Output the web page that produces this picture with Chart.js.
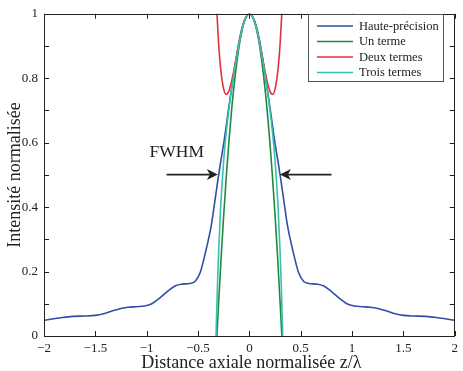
<!DOCTYPE html>
<html>
<head>
<meta charset="utf-8">
<script src="https://cdn.jsdelivr.net/npm/chart.js@4/dist/chart.umd.min.js"></script>
<style>
  html, body { margin: 0; padding: 0; background: #fff; }
  #wrap { width: 463px; height: 371px; position: relative; }
</style>
</head>
<body>
<div id="wrap"><canvas id="c" width="463" height="371"></canvas></div>
<script>
// ---- Data ----
const seriesLabels = ["Haute-précision", "Un terme", "Deux termes", "Trois termes"];
const seriesColors = ["#2f4ea6", "#1f8a3c", "#e0323a", "#35c0b0"];

const hauteX = [-2.00,-1.85,-1.72,-1.60,-1.50,-1.42,-1.35,-1.27,-1.18,-1.10,-1.02,-0.95,-0.88,-0.80,-0.72,-0.65,-0.58,-0.53,-0.48,-0.42,-0.37,-0.34,-0.31,-0.28,-0.25,-0.20,-0.15,-0.10,-0.05,
  0,
  0.05,0.10,0.15,0.20,0.25,0.28,0.31,0.34,0.37,0.42,0.48,0.53,0.58,0.65,0.72,0.80,0.88,0.95,1.02,1.10,1.18,1.27,1.35,1.42,1.50,1.60,1.72,1.85,2.00];
const hauteY = [0.049,0.056,0.061,0.062,0.064,0.069,0.076,0.084,0.089,0.091,0.093,0.100,0.116,0.138,0.156,0.161,0.163,0.169,0.196,0.270,0.345,0.410,0.477,0.540,0.597,0.710,0.818,0.915,0.978,
  1.000,
  0.978,0.915,0.818,0.710,0.597,0.540,0.477,0.410,0.345,0.270,0.196,0.169,0.163,0.161,0.156,0.138,0.116,0.100,0.093,0.091,0.089,0.084,0.076,0.069,0.064,0.062,0.061,0.056,0.049];

const unX = [-0.32,-0.30,-0.275,-0.25,-0.225,-0.20,-0.175,-0.15,-0.10,-0.05,0,0.05,0.10,0.15,0.175,0.20,0.225,0.25,0.275,0.30,0.32];
const unY = [-0.024,0.100,0.244,0.375,0.494,0.600,0.694,0.775,0.900,0.975,1.000,0.975,0.900,0.775,0.694,0.600,0.494,0.375,0.244,0.100,-0.024];

const deuxX = [-0.33,-0.32,-0.30,-0.28,-0.25,-0.225,-0.20,-0.175,-0.15,-0.10,-0.05,0,0.05,0.10,0.15,0.175,0.20,0.225,0.25,0.28,0.30,0.32,0.33];
const deuxY = [1.097,1.025,0.910,0.831,0.766,0.750,0.760,0.788,0.826,0.910,0.976,1.000,0.976,0.910,0.826,0.788,0.760,0.750,0.766,0.831,0.910,1.025,1.097];

const troisX = [-0.33,-0.32,-0.31,-0.30,-0.28,-0.25,-0.225,-0.20,-0.175,-0.15,-0.10,-0.05,0,0.05,0.10,0.15,0.175,0.20,0.225,0.25,0.28,0.30,0.31,0.32,0.33];
const troisY = [-0.065,0.058,0.164,0.254,0.397,0.546,0.633,0.702,0.762,0.815,0.909,0.976,1.000,0.976,0.909,0.815,0.762,0.702,0.633,0.546,0.397,0.254,0.164,0.058,-0.065];

const xTickValues = [-2,-1.5,-1,-0.5,0,0.5,1,1.5,2];
const xTickLabels = ["\u22122","\u22121.5","\u22121","\u22120.5","0","0.5","1","1.5","2"];
const yTickValues = [0,0.2,0.4,0.6,0.8,1];
const yTickLabels = ["0","0.2","0.4","0.6","0.8","1"];
const yMinorTicks = [0.1,0.3,0.5,0.7,0.9];

const xTitle = "Distance axiale normalisée z/\u03bb";
const yTitle = "Intensité normalisée";

// annotation: FWHM label and arrows (data coordinates)
const fwhmText = "FWHM";
const fwhmTextPos = [-0.707, 0.571];
const arrowLeft = [[-0.806, 0.501], [-0.307, 0.501]];   // tail -> tip
const arrowRight = [[0.80, 0.501], [0.297, 0.501]];

// ---- Build datasets ----
function pts(xs, ys) { return xs.map((x, i) => ({ x: x, y: ys[i] })); }
const seriesData = [pts(hauteX, hauteY), pts(unX, unY), pts(deuxX, deuxY), pts(troisX, troisY)];
const drawOrder = [4, 3, 2, 1];

const SERIF = "'Liberation Serif', 'DejaVu Serif', serif";

const datasets = seriesData.map((d, i) => ({
  label: seriesLabels[i],
  data: d,
  borderColor: seriesColors[i],
  backgroundColor: seriesColors[i],
  borderWidth: 1.6,
  pointRadius: 0,
  fill: false,
  cubicInterpolationMode: 'monotone',
  order: drawOrder[i],
  clip: 0
}));

const decor = {
  id: 'decor',
  afterDraw(chart) {
    const ctx = chart.ctx;
    const a = chart.chartArea;
    const xs = chart.scales.x, ys = chart.scales.y;
    ctx.save();
    // axes box
    ctx.strokeStyle = '#222';
    ctx.lineWidth = 1;
    ctx.strokeRect(Math.round(a.left) + 0.5, Math.round(a.top) + 0.5,
      Math.round(a.right - a.left) - 1, Math.round(a.bottom - a.top));
    // inward ticks
    const tl = 5;
    ctx.beginPath();
    xTickValues.forEach(v => {
      const px = Math.round(xs.getPixelForValue(v)) + 0.5;
      ctx.moveTo(px, a.bottom); ctx.lineTo(px, a.bottom - tl);
      ctx.moveTo(px, a.top); ctx.lineTo(px, a.top + tl);
    });
    yTickValues.concat(yMinorTicks).forEach(v => {
      const py = Math.round(ys.getPixelForValue(v)) + 0.5;
      ctx.moveTo(a.left, py); ctx.lineTo(a.left + tl, py);
      ctx.moveTo(a.right, py); ctx.lineTo(a.right - tl, py);
    });
    ctx.stroke();

    // axis titles
    ctx.fillStyle = '#222';
    ctx.font = '18px ' + SERIF;
    ctx.textAlign = 'center';
    ctx.textBaseline = 'alphabetic';
    ctx.fillText(xTitle, (a.left + a.right) / 2 + 2, 368);
    ctx.save();
    ctx.translate(20, (a.top + a.bottom) / 2);
    ctx.rotate(-Math.PI / 2);
    ctx.fillText(yTitle, 0, 0);
    ctx.restore();

    // FWHM label
    ctx.font = '17.5px ' + SERIF;
    ctx.textBaseline = 'middle';
    ctx.fillText(fwhmText, xs.getPixelForValue(fwhmTextPos[0]), ys.getPixelForValue(fwhmTextPos[1]));

    // arrows
    function arrow(p) {
      const x0 = xs.getPixelForValue(p[0][0]), y0 = ys.getPixelForValue(p[0][1]);
      const x1 = xs.getPixelForValue(p[1][0]), y1 = ys.getPixelForValue(p[1][1]);
      const dir = Math.sign(x1 - x0);
      const L = 11, W = 5.5, notch = 3;
      ctx.strokeStyle = '#222';
      ctx.lineWidth = 1.6;
      ctx.beginPath();
      ctx.moveTo(x0, y0); ctx.lineTo(x1 - dir * (L - notch), y1);
      ctx.stroke();
      ctx.fillStyle = '#222';
      ctx.beginPath();
      ctx.moveTo(x1, y1);
      ctx.lineTo(x1 - dir * L, y1 - W);
      ctx.lineTo(x1 - dir * (L - notch), y1);
      ctx.lineTo(x1 - dir * L, y1 + W);
      ctx.closePath();
      ctx.fill();
    }
    arrow(arrowLeft);
    arrow(arrowRight);

    // legend
    const bx = 308.5, by = 14.5, bw = 135, bh = 67;
    ctx.fillStyle = '#fff';
    ctx.fillRect(bx, by, bw, bh);
    ctx.strokeStyle = '#555';
    ctx.lineWidth = 1;
    ctx.strokeRect(bx, by, bw, bh);
    ctx.font = '12.5px ' + SERIF;
    ctx.textAlign = 'left';
    ctx.textBaseline = 'middle';
    seriesLabels.forEach((lab, i) => {
      const ry = 26 + i * 15.5;
      ctx.strokeStyle = seriesColors[i];
      ctx.lineWidth = 1.6;
      ctx.beginPath();
      ctx.moveTo(317, ry); ctx.lineTo(353, ry);
      ctx.stroke();
      ctx.fillStyle = '#222';
      ctx.fillText(lab, 359, ry + 0.5);
    });
    ctx.restore();
  }
};

new Chart(document.getElementById('c'), {
  type: 'line',
  data: { datasets: datasets },
  options: {
    responsive: false,
    animation: false,
    devicePixelRatio: 1,
    layout: { padding: { left: 0, right: 5, top: 10, bottom: 0 } },
    plugins: { legend: { display: false }, tooltip: { enabled: false } },
    scales: {
      x: {
        type: 'linear', min: -2, max: 2,
        grid: { display: false, drawTicks: false }, border: { display: false },
        afterBuildTicks: s => { s.ticks = xTickValues.map(v => ({ value: v })); },
        afterFit: s => { s.height = 35; },
        ticks: {
          padding: 5, color: '#222', maxRotation: 0, autoSkip: false,
          font: { family: SERIF, size: 13 },
          callback: (v) => { const i = xTickValues.indexOf(v); return i >= 0 ? xTickLabels[i] : ''; }
        }
      },
      y: {
        type: 'linear', min: 0, max: 1,
        grid: { display: false, drawTicks: false }, border: { display: false },
        afterBuildTicks: s => { s.ticks = yTickValues.map(v => ({ value: v })); },
        afterFit: s => { s.width = 44; },
        ticks: {
          padding: 6, color: '#222', autoSkip: false,
          font: { family: SERIF, size: 13 },
          callback: (v) => { const i = yTickValues.indexOf(v); return i >= 0 ? yTickLabels[i] : ''; }
        }
      }
    }
  },
  plugins: [decor]
});
</script>
</body>
</html>
